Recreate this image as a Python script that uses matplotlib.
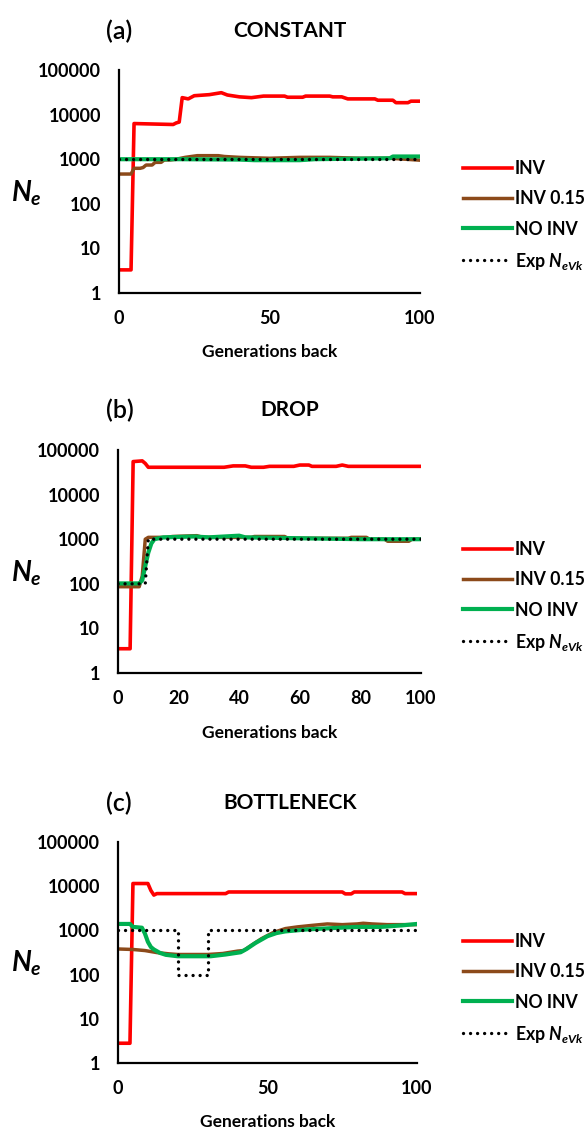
import matplotlib
matplotlib.use('Agg')
import matplotlib.pyplot as plt
from matplotlib.ticker import FixedLocator, FixedFormatter, NullLocator

plt.rcParams['font.family'] = ['Lato', 'DejaVu Sans']
plt.rcParams['font.weight'] = 'bold'
plt.rcParams['mathtext.fontset'] = 'custom'
plt.rcParams['mathtext.it'] = 'Lato:italic:bold'
plt.rcParams['mathtext.rm'] = 'Lato:bold'
plt.rcParams['mathtext.bf'] = 'Lato:bold'

# ---------------- data ----------------
series_names = ['INV', 'INV 0.15', 'NO INV', r'Exp $N_{eVk}$']
y_ticks = [1, 10, 100, 1000, 10000, 100000]
y_tick_labels = ['1', '10', '100', '1000', '10000', '100000']
x_ticks_a = [0, 50, 100]
x_ticks_b = [0, 20, 40, 60, 80, 100]
x_ticks_c = [0, 50, 100]

# (a) CONSTANT
a_inv_gen = [0, 4, 5, 18, 19, 20, 21, 23, 25, 30, 34, 36, 40, 44, 48, 55, 56, 61, 62, 70, 71, 74, 76, 85, 86, 91, 92, 96, 97, 100]
a_inv_ne = [3.3, 3.3, 6300, 6000, 6500, 6800, 24000, 22500, 26500, 28000, 31000, 27500, 25000, 24000, 26000, 26000, 24500, 24500, 26000, 26000, 25000, 25000, 22500, 22500, 21000, 21000, 18500, 18500, 20000, 20000]
a_inv15_gen = [0, 4, 5, 7, 8, 9, 11, 12, 14, 15, 17, 19, 22, 26, 33, 35, 40, 50, 60, 70, 80, 90, 95, 100]
a_inv15_ne = [465, 465, 625, 625, 650, 740, 740, 850, 850, 960, 960, 1000, 1100, 1200, 1200, 1150, 1100, 1050, 1100, 1100, 1050, 1050, 1000, 950]
a_noinv_gen = [0, 20, 40, 45, 60, 65, 90, 91, 100]
a_noinv_ne = [1000, 1000, 980, 950, 950, 1000, 1050, 1150, 1150]
a_exp_gen = [0, 100]
a_exp_ne = [1000, 1000]

# (b) DROP
b_inv_gen = [0, 4, 5, 8, 9, 10, 35, 38, 42, 44, 48, 50, 58, 60, 63, 64, 72, 74, 76, 100]
b_inv_ne = [3.5, 3.5, 55000, 57000, 50000, 41000, 41000, 44000, 44000, 41000, 41000, 43000, 43000, 46000, 46000, 43000, 43000, 46000, 43000, 43000]
b_inv15_gen = [0, 7, 8, 9, 10, 16, 18, 26, 28, 44, 45, 55, 56, 76, 77, 82, 83, 88, 89, 96, 97, 100]
b_inv15_ne = [86, 86, 150, 1000, 1100, 1100, 1150, 1200, 1100, 1100, 1150, 1150, 1050, 1050, 1100, 1100, 1000, 1000, 900, 900, 1000, 1000]
b_noinv_gen = [0, 7, 8, 9, 10, 11, 12, 15, 25, 30, 35, 40, 42, 60, 80, 100]
b_noinv_ne = [102, 102, 120, 250, 500, 800, 1000, 1100, 1150, 1100, 1150, 1200, 1100, 1050, 1000, 1000]
b_exp_gen = [0, 9, 10, 100]
b_exp_ne = [100, 100, 1000, 1000]

# (c) BOTTLENECK
c_inv_gen = [0, 4, 5, 10, 11, 12, 13, 36, 37, 75, 76, 78, 79, 95, 96, 100]
c_inv_ne = [2.8, 2.8, 11500, 11500, 8000, 6300, 6800, 6800, 7400, 7400, 6700, 6700, 7400, 7400, 6800, 6800]
c_inv15_gen = [0, 5, 9, 13, 17, 20, 30, 35, 40, 42, 45, 48, 52, 56, 60, 65, 70, 75, 80, 82, 85, 90, 100]
c_inv15_ne = [380, 370, 350, 315, 295, 285, 285, 300, 340, 350, 480, 650, 900, 1100, 1200, 1300, 1400, 1350, 1400, 1450, 1400, 1350, 1350]
c_noinv_gen = [0, 4, 5, 8, 9, 10, 11, 12, 14, 16, 20, 31, 36, 41, 43, 46, 50, 53, 56, 63, 72, 80, 88, 95, 100]
c_noinv_ne = [1400, 1400, 1200, 1150, 850, 550, 420, 370, 310, 280, 260, 260, 285, 320, 380, 520, 740, 870, 950, 1050, 1130, 1200, 1200, 1300, 1400]
c_exp_gen = [0, 20, 20, 30, 30, 100]
c_exp_ne = [1000, 1000, 100, 100, 1000, 1000]

# ---------------- layout ----------------
W, H = 587, 1130
DPI = 100
fig = plt.figure(figsize=(W / DPI, H / DPI), dpi=DPI)
fig.patch.set_facecolor('white')

RED = '#FF0000'
BROWN = '#8C4A1A'
GREEN = '#00B050'


def box(l, t, r, b):
    return [l / W, 1 - b / H, (r - l) / W, (b - t) / H]


def fx(x):
    return x / W


def fy(y):
    return 1 - y / H


def panel(axpx, tag, title, xticks, inv, inv15, noinv, exp, leg_y, top_y, ne_y, xl_y):
    l, t, r, b = axpx
    ax = fig.add_axes(box(l, t, r, b))
    ax.set_yscale('log')
    ax.set_xlim(0, 100)
    ax.set_ylim(1, 100000)
    h1, = ax.plot(inv[0], inv[1], color=RED, lw=2.6, solid_joinstyle='round')
    h2, = ax.plot(inv15[0], inv15[1], color=BROWN, lw=2.5, solid_joinstyle='round')
    h3, = ax.plot(noinv[0], noinv[1], color=GREEN, lw=3.0, solid_joinstyle='round')
    h4, = ax.plot(exp[0], exp[1], color='black', lw=2.4,
                  linestyle=(0, (0.01, 2.1)), dash_capstyle='round')
    for s in ['top', 'right']:
        ax.spines[s].set_visible(False)
    for s in ['left', 'bottom']:
        ax.spines[s].set_linewidth(1.6)
        ax.spines[s].set_color('black')
    ax.yaxis.set_major_locator(FixedLocator(y_ticks))
    ax.yaxis.set_major_formatter(FixedFormatter(y_tick_labels))
    ax.yaxis.set_minor_locator(NullLocator())
    ax.set_xticks(xticks)
    ax.set_xticklabels([str(v) for v in xticks])
    ax.tick_params(axis='both', length=0, labelsize=13)
    ax.tick_params(axis='y', pad=13)
    ax.tick_params(axis='x', pad=12)
    for lab in ax.get_xticklabels() + ax.get_yticklabels():
        lab.set_fontweight('bold')
    ax.patch.set_alpha(0)

    fig.text(fx(106), fy(top_y), tag, fontsize=18, fontweight='semibold',
             ha='left', va='center')
    fig.text(fx(290), fy(top_y), title, fontsize=15, fontweight='bold',
             ha='center', va='center')
    fig.text(fx(26), fy(ne_y), r'$N_e$', fontsize=20, ha='center', va='center')
    fig.text(fx((l + r) / 2), fy(xl_y), 'Generations back', fontsize=12.5,
             fontweight='bold', ha='center', va='center')

    ax.legend([h1, h2, h3, h4], series_names, loc='center left',
              bbox_to_anchor=(fx(463), fy(leg_y)), bbox_transform=fig.transFigure,
              frameon=False, borderpad=0, borderaxespad=0, handlelength=2.8,
              handletextpad=0.15, labelspacing=0.74,
              prop=dict(size=12.7, weight='bold'))
    return ax


panel((119, 70, 420, 293), '(a)', 'CONSTANT', x_ticks_a,
      (a_inv_gen, a_inv_ne), (a_inv15_gen, a_inv15_ne),
      (a_noinv_gen, a_noinv_ne), (a_exp_gen, a_exp_ne),
      leg_y=216, top_y=31, ne_y=193, xl_y=352)
panel((118, 450, 421, 673), '(b)', 'DROP', x_ticks_b,
      (b_inv_gen, b_inv_ne), (b_inv15_gen, b_inv15_ne),
      (b_noinv_gen, b_noinv_ne), (b_exp_gen, b_exp_ne),
      leg_y=597, top_y=410, ne_y=573, xl_y=733)
panel((118, 842, 417, 1063), '(c)', 'BOTTLENECK', x_ticks_c,
      (c_inv_gen, c_inv_ne), (c_inv15_gen, c_inv15_ne),
      (c_noinv_gen, c_noinv_ne), (c_exp_gen, c_exp_ne),
      leg_y=989, top_y=803, ne_y=963, xl_y=1122)

fig.savefig('out.png', dpi=DPI, facecolor='white')
